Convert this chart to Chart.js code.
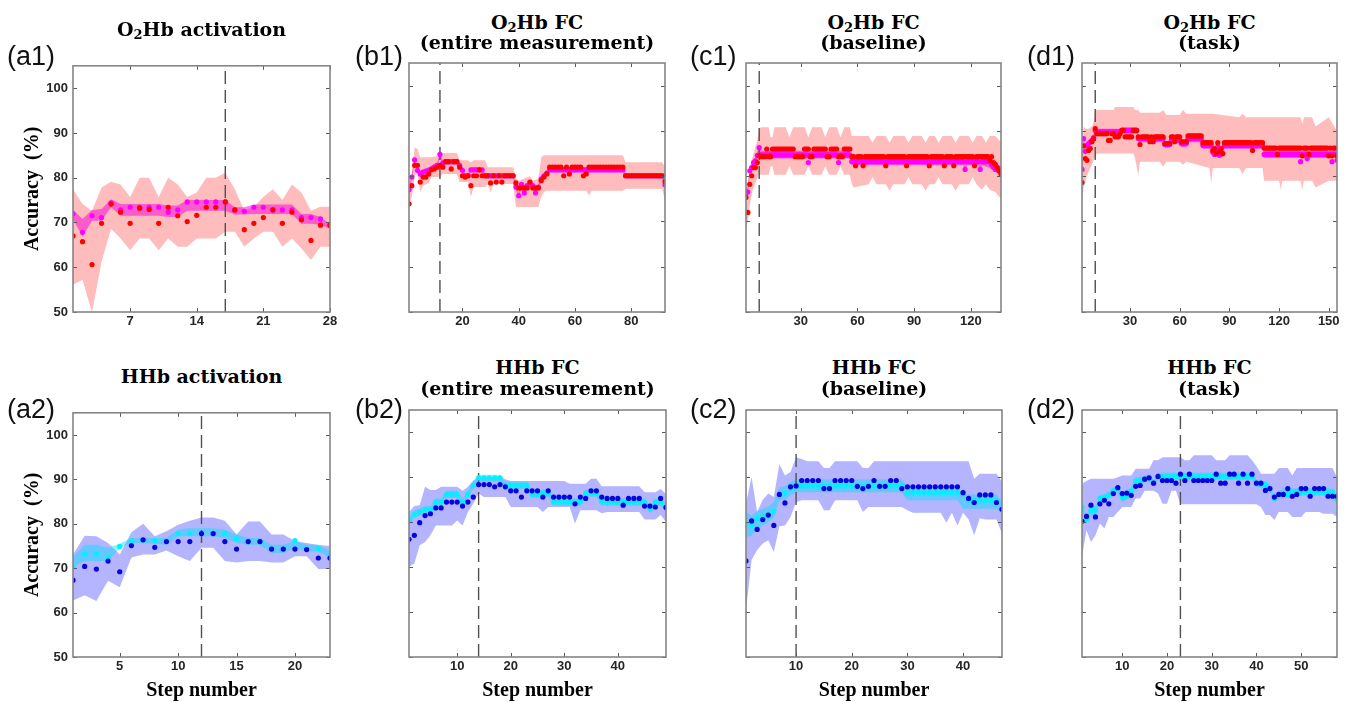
<!DOCTYPE html>
<html><head><meta charset="utf-8">
<script src="https://cdn.jsdelivr.net/npm/chart.js@4.4.1/dist/chart.umd.min.js"></script>
<style>
html,body{margin:0;padding:0;background:#fff;width:1348px;height:703px;overflow:hidden;position:relative;}
canvas{position:absolute;}
.lbl{position:absolute;font-family:'Liberation Sans',Arial,sans-serif;font-size:27px;line-height:27px;color:#111;white-space:nowrap;}
.ttl{position:absolute;font-family:'DejaVu Serif',serif;font-weight:bold;font-size:19px;line-height:19px;color:#000;white-space:nowrap;transform:translateX(-50%);}
.ttl sub{font-size:13px;vertical-align:-3px;line-height:0;}
</style></head><body>
<script>
// ---------- tick labels ----------
const yTicks = [50,60,70,80,90,100];
const a1XTicks = [7,14,21,28];
const b1XTicks = [20,40,60,80];
const c1XTicks = [30,60,90,120];
const d1XTicks = [30,60,90,120,150];
const a2XTicks = [5,10,15,20];
const b2XTicks = [10,20,30,40];
const c2XTicks = [10,20,30,40];
const d2XTicks = [10,20,30,40,50];
// step of the dashed vertical line
const a1Dash = 17, b1Dash = 12, c1Dash = 8, d1Dash = 9, a2Dash = 12, b2Dash = 14, c2Dash = 10, d2Dash = 23;

// ---------- (a1) O2Hb activation ----------
const a1Red = [67.0,65.7,60.6,69.8,74.1,72.3,69.8,73.2,72.9,69.8,73.4,71.5,70.2,71.6,73.4,73.4,74.6,72.8,68.4,69.8,71.1,72.8,69.8,72.3,70.6,66.0,69.4,69.4];
const a1Mag = [72.0,67.8,71.5,71.1,74.4,72.8,73.4,73.4,73.4,73.4,72.3,72.8,74.6,74.6,74.6,74.6,74.6,72.8,72.5,73.4,73.4,72.8,72.8,72.8,71.1,71.1,70.8,69.5];
const a1Hi = [77.4,74.1,72.6,77.8,79.1,78.5,75.7,80.0,80.0,75.7,80.0,78.5,75.7,76.7,80.0,80.0,81.1,77.4,72.6,73.5,75.7,77.4,75.0,78.5,76.7,72.6,73.5,73.5];
const a1Lo = [56.1,57.2,49.9,61.3,68.6,66.4,63.8,66.4,66.4,63.8,66.4,64.6,64.6,66.4,66.4,66.4,67.9,67.9,64.6,66.4,67.9,67.9,64.6,66.4,64.2,61.6,64.6,64.6];
const a1MagHi = [72.8,70.8,72.8,73.0,75.2,74.1,74.1,74.1,74.1,74.1,73.8,73.8,75.0,75.0,75.0,75.0,75.0,73.4,73.4,74.0,74.0,74.0,74.0,74.0,71.9,71.9,71.2,69.6];
const a1MagLo = [70.8,66.8,70.4,70.4,73.4,71.5,71.5,71.5,71.5,71.5,71.2,71.2,72.6,72.6,72.6,72.6,72.6,71.8,71.8,71.9,71.9,71.9,71.9,71.9,69.7,69.7,69.5,68.6];

// ---------- (b1) O2Hb FC entire ----------
const b1Red = [73.9,77.9,82.4,82.4,78.7,79.8,79.8,80.5,81.4,81.6,
 82.0,82.4,82.0,83.2,83.2,81.6,83.2,83.2,82.0,80.1,
 79.8,80.1,77.9,80.1,80.1,81.4,80.1,80.1,80.1,78.5,
 80.1,78.7,80.1,78.7,80.1,80.1,80.1,80.1,78.5,77.4,
 77.4,77.4,77.4,78.7,77.4,77.4,77.4,79.0,79.8,80.5,
 82.0,82.0,82.0,82.0,82.0,80.1,82.0,80.5,82.0,82.0,
 82.0,82.0,80.1,80.5,82.0,82.0,82.0,82.0,82.0,82.0,
 82.0,82.0,82.0,82.0,82.0,82.0,82.0,80.1,80.1,80.1,
 80.1,80.1,80.1,80.1,80.1,80.1,80.1,80.1,80.1,80.1,
 80.1,78.8];
const b1Mag = [77.0,79.8,83.6,81.3,80.5,80.9,81.1,81.3,81.6,82.0,
 82.4,84.8,82.9,83.2,83.2,83.2,83.2,83.2,82.4,81.3,
 80.1,80.1,81.4,81.4,81.4,81.4,81.4,80.1,80.1,80.1,
 80.1,80.1,80.1,80.1,80.1,80.1,80.1,80.1,77.6,75.7,
 78.2,76.3,77.9,78.5,77.9,76.3,77.6,79.4,80.1,80.7,
 81.4,81.4,81.4,81.4,81.4,81.4,81.4,81.4,81.4,81.4,
 81.4,81.4,81.4,81.4,81.4,81.4,81.4,81.4,81.4,81.4,
 81.4,81.4,81.4,81.4,81.4,81.4,81.4,80.1,80.1,80.1,
 80.1,80.1,80.1,80.1,80.1,80.1,80.1,80.1,80.1,80.1,
 80.1,78.1];
const b1BandX = [1,2,3,4,5,6,8,9,12,13,18,19,22,23,24,28,29,30,31,38,39,40,44,45,47,48,49,50,51,64,65,66,77,78,91,92];
const b1Hi = [77.6,80.5,86.4,86.0,84.2,84.2,84.2,84.2,84.5,85.1,85.1,83.5,83.5,83.0,83.5,83.5,82.0,82.0,82.0,82.0,79.5,79.0,80.0,79.0,79.5,84.2,84.6,84.6,84.6,84.6,84.6,84.6,84.6,83.1,83.1,82.0];
const b1Lo = [73.2,75.5,80.0,80.9,76.5,77.9,78.5,79.8,79.8,80.5,80.5,78.7,78.7,75.4,77.6,77.6,78.3,76.5,78.3,78.3,73.2,73.2,73.2,73.2,73.2,75.5,76.5,76.8,76.8,76.8,75.8,76.8,76.8,77.2,77.2,74.6];
const b1NarX = [1,2,3,4,5,8,11,12,13,14,18,19,20,21,22,23,27,28,38,39,40,41,42,43,44,45,46,47,48,49,50,51,77,78,91,92];
const b1NarHi = [77.6,80.4,84.2,82.0,81.2,82.0,83.0,85.2,83.5,83.8,83.8,83.0,81.9,80.7,80.7,82.0,82.0,80.7,80.7,78.2,76.3,78.8,77.0,78.5,79.1,78.5,77.0,78.2,80.0,80.7,81.3,82.0,82.0,80.7,80.7,78.7];
const b1NarLo = [76.4,79.2,83.0,80.6,79.8,80.6,81.8,84.2,82.3,82.6,82.6,81.8,80.7,79.5,79.5,80.8,80.8,79.5,79.5,77.0,75.1,77.6,75.7,77.3,77.9,77.3,75.7,77.0,78.8,79.5,80.1,80.8,80.8,79.5,79.5,77.5];

// ---------- (c1) O2Hb FC baseline ----------
const c1Red = [75.3,72.0,78.2,80.1,81.9,81.9,83.0,84.5,84.3,84.3,
 84.3,86.0,84.3,84.3,86.0,86.0,86.0,86.0,86.0,86.0,
 86.0,86.0,86.0,86.0,86.0,86.0,84.3,84.3,84.3,84.3,
 84.3,86.0,86.0,86.0,84.3,84.3,86.0,86.0,86.0,86.0,
 86.0,86.0,86.0,84.3,84.3,86.0,86.0,86.0,86.0,84.3,
 84.3,84.3,86.0,86.0,86.0,86.0,84.3,84.3,82.3,84.3,
 84.3,84.3,82.3,84.3,84.3,84.3,84.3,84.3,84.3,84.3,
 84.3,84.3,84.3,84.3,82.3,84.3,84.3,84.3,84.3,84.3,
 84.3,84.3,84.3,84.3,84.3,82.3,84.3,84.3,84.3,84.3,
 84.3,84.3,84.3,84.3,84.3,84.3,84.3,82.3,84.3,84.3,
 84.3,84.3,84.3,84.3,84.3,82.3,84.3,84.3,84.3,84.3,
 82.3,84.3,84.3,84.3,84.3,84.3,84.3,84.3,84.3,84.3,
 84.3,82.3,84.3,84.3,84.3,84.3,84.3,84.3,84.3,83.5,
 84.3,83.0,82.6,81.8,81.2,80.5];
const c1Mag = [76.4,76.5,81.2,81.9,83.0,83.4,84.6,86.3,84.7,84.7,
 84.7,84.7,84.7,84.7,84.7,84.7,84.7,84.7,84.7,84.7,
 84.7,84.7,84.7,84.7,84.7,84.7,84.7,84.7,84.7,84.7,
 84.7,84.7,84.7,83.0,84.7,84.7,84.7,84.7,84.7,84.7,
 84.7,84.7,84.7,84.7,84.7,84.7,84.7,84.7,84.7,83.0,
 84.7,84.7,84.7,84.7,84.7,84.7,83.2,83.2,83.2,83.2,
 83.2,83.2,83.2,83.2,83.2,83.2,83.2,83.2,83.2,83.2,
 83.2,83.2,83.2,83.2,83.2,83.2,83.2,83.2,83.2,83.2,
 83.2,83.2,83.2,83.2,83.2,83.2,83.2,83.2,83.2,83.2,
 83.2,83.2,83.2,83.2,83.2,83.2,83.2,83.2,83.2,83.2,
 83.2,83.2,83.2,83.2,83.2,83.2,83.2,83.2,83.2,83.2,
 83.2,83.2,83.2,83.2,83.2,83.2,81.5,83.2,83.2,83.2,
 83.2,83.2,83.2,83.2,81.5,83.2,83.2,83.2,83.2,83.2,
 82.5,82.0,81.5,82.0,81.5,81.0];
const c1BandX = [1,2,3,4,5,6,7,8,9,13,14,15,16,22,24,26,32,34,36,41,43,45,49,51,53,56,57,58,66,68,70,75,77,79,85,87,89,94,96,98,101,103,105,110,112,114,119,121,123,126,128,130,133,136];
const c1Hi = [77.5,79.0,81.5,83.5,85.0,86.5,88.0,90.5,90.8,90.8,88.6,88.6,90.8,90.8,88.6,90.8,90.8,88.6,90.8,90.8,88.6,90.8,90.8,88.6,90.8,90.8,88.9,88.9,88.9,87.4,88.9,88.9,87.4,88.9,88.9,87.4,88.9,88.9,87.4,88.9,88.9,87.4,88.9,88.9,87.4,88.9,88.9,87.4,88.9,88.9,87.4,88.9,88.9,87.5];
const c1Lo = [68.5,70.0,73.5,76.0,77.5,78.5,79.5,80.5,80.3,80.3,82.2,82.2,80.3,80.3,82.2,80.3,80.3,82.2,80.3,80.3,82.2,80.3,80.3,82.2,80.3,80.3,78.2,77.5,78.2,79.8,78.2,78.2,76.8,78.2,78.2,79.8,78.2,78.2,76.8,78.2,78.2,79.8,78.2,78.2,76.8,78.2,78.2,79.8,78.2,77.0,78.2,77.0,76.5,75.0];
const c1NarX = [1,2,3,4,5,6,7,8,9,56,57,116,117,118,124,125,126,130,133,136];
const c1NarHi = [77.2,77.5,82.0,82.8,83.8,84.2,85.4,87.0,85.6,85.6,84.1,84.1,83.0,84.1,84.1,83.0,84.1,83.6,83.0,82.0];
const c1NarLo = [75.5,75.5,80.2,81.0,82.0,82.5,83.6,85.3,83.9,83.9,82.4,82.4,81.0,82.4,82.4,81.0,82.4,81.8,81.0,80.0];

// ---------- (d1) O2Hb FC task ----------
const d1Red = [78.6,86.7,83.9,83.5,85.7,86.1,87.6,88.3,90.5,89.4,
 89.4,89.4,89.4,89.4,89.4,89.4,87.9,87.9,89.4,89.4,
 88.7,88.7,88.7,89.4,90.1,90.1,88.7,88.7,88.7,88.7,
 88.7,90.1,90.1,90.1,88.7,87.0,88.7,88.7,88.7,88.7,
 88.7,87.6,88.7,87.6,88.7,88.7,88.7,88.7,88.7,88.7,
 87.2,87.2,87.2,87.2,88.7,88.7,87.6,88.7,88.7,88.7,
 87.6,87.6,87.6,87.6,88.9,88.9,88.9,88.9,88.9,88.9,
 88.9,88.9,88.9,87.4,87.4,87.4,87.4,87.4,87.4,85.7,
 86.1,85.0,87.4,85.5,86.1,85.0,87.4,87.4,87.4,87.4,
 87.4,87.4,87.4,87.4,87.4,87.4,87.4,87.4,87.4,87.4,
 87.4,87.4,87.4,85.7,87.4,87.4,87.4,87.4,87.4,87.4,
 86.2,86.2,86.2,86.2,86.2,86.2,86.2,86.2,84.8,86.2,
 86.2,86.2,86.2,86.2,86.2,86.2,86.2,86.2,86.2,86.2,
 86.2,86.2,86.2,84.5,86.2,86.2,86.2,84.8,86.2,86.2,
 86.2,86.2,86.2,86.2,86.2,86.2,86.2,86.2,86.2,84.5,
 86.2,84.5,86.2,86.2,84.5];
const d1Mag = [81.5,88.3,85.5,86.8,87.2,87.6,87.9,88.5,90.1,89.8,
 89.8,89.8,89.8,89.8,89.8,89.8,89.8,89.8,89.8,89.8,
 89.8,89.8,89.8,89.8,90.1,90.1,90.1,90.1,90.1,90.1,
 90.1,90.1,90.1,90.1,88.3,88.3,88.3,88.3,88.3,88.3,
 88.3,88.3,88.3,88.3,88.3,88.3,88.3,88.3,88.3,88.3,
 87.0,87.0,87.0,87.0,88.0,88.0,88.0,88.0,88.0,88.0,
 87.2,87.2,87.2,87.2,88.3,88.3,88.3,88.3,88.3,88.3,
 88.3,88.3,88.3,86.8,86.8,86.8,86.8,86.8,86.8,85.3,
 84.8,85.3,86.5,84.6,85.3,85.0,86.8,86.8,86.8,86.8,
 86.8,86.8,86.8,86.8,86.8,86.8,86.8,86.8,86.8,86.8,
 86.8,86.8,86.8,86.8,86.8,86.8,86.8,86.8,86.8,86.8,
 84.8,84.8,84.8,84.8,84.8,84.8,84.8,84.8,84.8,84.8,
 84.8,84.8,84.8,84.8,84.8,84.8,84.8,84.8,84.8,84.8,
 84.8,84.8,83.2,84.8,84.8,84.8,83.9,84.8,84.8,84.8,
 84.8,84.8,84.8,84.8,84.8,84.8,84.8,84.8,84.8,84.8,
 84.8,83.2,84.8,84.8,83.5];
const d1BandX = [1,2,3,5,7,8,9,10,20,21,22,32,33,35,36,48,50,52,60,62,64,78,79,80,96,98,100,110,111,112,120,121,122,133,134,135,140,142,150,155];
const d1Hi = [85.0,91.0,90.5,90.5,91.0,92.0,94.6,94.6,94.6,95.3,95.3,95.3,94.6,94.6,94.0,94.0,94.6,93.5,93.5,94.6,93.8,93.8,93.8,93.8,93.0,93.8,93.0,93.0,93.0,93.0,93.0,93.0,93.0,93.0,91.5,93.0,93.0,91.0,93.0,90.0];
const d1Lo = [74.5,77.5,79.0,81.0,82.5,83.5,84.5,85.0,85.0,85.0,85.0,85.0,84.0,80.2,83.2,83.2,82.1,83.2,83.2,82.5,83.2,81.8,78.5,81.8,81.8,80.5,81.8,81.8,79.0,79.0,79.0,77.0,79.0,79.0,77.0,79.0,79.0,77.5,79.0,79.0];
const d1NarX = [1,2,3,4,8,9,10,24,25,34,35,50,51,54,55,60,61,64,65,73,74,79,80,86,87,110,111,155];
const d1NarHi = [82.5,89.0,86.5,87.5,89.3,90.8,90.5,90.5,90.8,90.8,89.0,89.0,87.8,87.8,88.7,88.7,88.0,88.0,89.0,89.0,87.6,87.6,86.5,86.5,87.6,87.6,85.7,85.7];
const d1NarLo = [80.5,87.5,84.5,86.0,87.7,89.4,89.0,89.0,89.4,89.4,87.5,87.5,86.2,86.2,87.3,87.3,86.4,86.4,87.5,87.5,86.0,86.0,84.3,84.3,86.0,86.0,84.0,84.0];

// ---------- (a2) HHb activation ----------
const a2Blue = [67.3,70.4,69.8,71.6,69.2,75.1,76.4,74.7,76.0,76.0,76.0,77.8,77.8,76.0,74.3,76.0,76.0,74.3,74.3,74.3,74.2,72.3,72.3];
const a2Cyan = [70.2,73.2,73.2,72.4,74.9,76.2,76.4,76.2,76.0,77.8,77.8,77.8,77.8,77.8,76.7,76.0,76.0,74.3,74.3,76.2,74.3,74.4,72.6];
const a2Hi = [73.1,77.3,77.2,75.7,73.1,78.1,80.0,77.2,78.3,79.8,80.7,81.4,81.4,80.7,77.6,80.5,80.5,77.6,77.6,76.1,75.7,75.2,75.0];
const a2Lo = [62.7,63.9,62.6,67.2,65.7,72.4,73.1,73.1,74.0,72.7,71.6,74.6,74.6,71.6,71.3,71.6,71.6,71.3,71.3,72.7,72.7,69.8,69.8];
const a2CyHi = [72.4,75.3,75.3,74.6,75.5,76.8,76.8,76.8,76.8,78.7,79.0,79.0,79.0,78.7,77.6,76.8,76.8,75.3,75.3,76.1,75.3,75.3,73.8];
const a2CyLo = [70.3,71.6,71.6,71.6,74.5,75.7,75.7,75.5,75.3,77.2,77.2,77.2,77.2,76.8,75.7,75.3,75.3,73.4,73.4,74.6,73.8,73.8,72.4];

// ---------- (b2) HHb FC entire ----------
const b2Blue = [76.2,77.1,79.9,81.5,81.9,83.2,83.2,84.5,84.5,84.5,
 83.6,84.5,85.6,88.4,88.4,88.4,87.9,88.4,87.9,87.0,
 87.0,85.6,87.0,87.0,87.0,85.6,87.0,85.6,85.6,85.6,
 85.6,84.1,85.6,85.3,87.0,87.0,85.6,85.3,85.3,85.3,
 83.8,85.3,85.3,85.3,83.6,83.6,83.4,85.3,83.3];
const b2Cyan = [80.3,81.8,82.3,82.8,82.8,84.5,84.5,86.2,86.2,86.2,
 84.5,86.2,88.2,89.9,89.9,89.9,89.9,89.9,88.2,88.2,
 88.2,88.2,88.2,86.2,86.2,86.5,86.5,84.5,84.5,84.5,
 84.5,84.5,84.5,86.5,86.5,86.5,84.5,84.5,84.5,84.5,
 84.5,84.5,84.5,84.5,84.5,82.9,84.5,84.5,83.3];
const b2Hi = [82.3,83.6,83.8,87.9,87.2,87.2,87.9,87.9,87.9,87.9,
 87.0,87.9,89.3,90.1,90.1,90.1,90.1,90.1,89.6,89.2,
 89.2,89.2,89.2,89.2,89.2,89.2,89.2,89.2,89.2,89.2,
 88.6,88.6,88.6,88.6,89.7,89.7,88.0,88.0,88.0,88.0,
 88.0,88.0,88.0,88.0,86.7,86.7,86.7,87.4,86.3];
const b2Lo = [70.1,70.8,74.9,75.6,77.1,79.3,79.3,79.3,79.3,80.4,
 79.3,82.3,84.1,86.4,85.6,85.6,85.6,85.6,85.6,83.4,
 83.4,83.4,83.4,83.4,83.4,82.3,83.4,83.4,83.4,83.4,
 83.4,79.7,82.7,82.7,82.7,82.7,82.0,82.3,82.3,82.3,
 82.3,82.3,82.3,82.3,80.6,80.6,80.6,81.6,80.1];
const b2CyHi = [81.2,82.6,83.1,83.6,83.6,85.3,85.3,87.0,87.0,87.0,
 85.3,87.0,89.0,90.6,90.6,90.6,90.6,90.6,89.0,89.0,
 89.0,89.0,89.0,87.0,87.0,87.3,87.3,85.3,85.3,85.3,
 85.3,85.3,85.3,87.3,87.3,87.3,85.3,85.3,85.3,85.3,
 85.3,85.3,85.3,85.3,85.3,83.7,85.3,85.3,84.1];
const b2CyLo = [79.5,81.0,81.5,82.0,82.0,83.7,83.7,85.4,85.4,85.4,
 83.7,85.4,87.4,89.1,89.1,89.1,89.1,89.1,87.4,87.4,
 87.4,87.4,87.4,85.4,85.4,85.7,85.7,83.7,83.7,83.7,
 83.7,83.7,83.7,85.7,85.7,85.7,83.7,83.7,83.7,83.7,
 83.7,83.7,83.7,83.7,83.7,82.1,83.7,83.7,82.5];

// ---------- (c2) HHb FC baseline ----------
const c2Blue = [71.4,80.3,78.4,80.6,81.6,79.3,86.2,84.3,87.9,88.1,
 89.3,89.3,89.3,89.3,87.5,87.5,89.3,89.3,89.3,89.3,
 88.0,87.5,88.0,89.3,88.0,88.0,89.3,89.3,87.5,87.9,
 87.9,87.9,87.9,87.9,87.9,87.9,87.9,87.9,87.9,86.6,
 85.3,84.4,86.1,86.1,86.1,84.4,82.9];
const c2Cyan = [79.7,79.4,80.8,81.2,81.8,82.5,86.0,86.5,87.6,88.1,
 88.1,88.1,88.1,88.1,88.1,88.1,88.1,88.1,88.1,88.1,
 88.1,88.1,88.1,88.1,88.1,88.1,88.1,88.1,88.1,86.6,
 86.6,86.6,86.6,86.6,86.6,86.6,86.6,86.6,86.6,86.6,
 84.9,84.9,84.9,84.9,84.9,84.9,82.9];
const c2Hi = [84.1,90.1,82.3,85.0,86.4,85.6,93.0,90.4,91.2,94.5,
 94.1,93.6,93.6,93.6,92.1,92.1,93.6,93.6,93.6,93.6,
 93.6,92.1,92.1,93.6,93.6,93.6,93.6,93.6,93.6,93.6,
 93.6,93.6,93.6,93.6,93.6,93.6,93.6,93.6,93.6,93.6,
 93.6,89.7,90.8,90.8,90.8,90.8,89.0];
const c2Lo = [60.4,71.6,73.8,75.3,76.0,73.4,79.1,79.3,81.2,84.5,
 84.9,84.9,84.9,84.9,82.7,82.7,84.9,84.9,84.9,84.9,
 84.9,82.3,83.4,83.4,83.4,83.4,83.4,83.4,83.4,82.7,
 82.1,82.1,82.1,82.1,82.1,82.1,79.9,82.1,79.3,82.1,
 80.6,77.1,80.9,80.6,80.6,80.6,77.5];
const c2CyHi = [82.3,81.5,82.5,83.0,83.5,84.5,87.8,88.0,89.0,89.6,
 89.6,89.6,89.6,89.6,89.6,89.6,89.6,89.6,89.6,89.6,
 89.6,89.6,89.6,89.6,89.6,89.6,89.6,89.6,89.6,87.9,
 87.9,87.9,87.9,87.9,87.9,87.9,87.9,87.9,87.9,86.2,
 86.2,86.2,86.2,86.2,86.2,86.2,84.5];
const c2CyLo = [76.7,77.0,78.5,79.2,80.0,81.0,84.9,85.0,86.0,86.7,
 86.7,86.7,86.7,86.7,86.7,86.7,86.7,86.7,86.7,86.7,
 86.7,86.7,86.7,86.7,86.7,86.7,86.7,86.7,86.7,84.9,
 84.9,84.9,84.9,84.9,84.9,84.9,84.9,84.9,84.9,83.0,
 83.0,83.0,83.0,83.0,83.0,83.0,82.0];

// ---------- (d2) HHb FC task ----------
const d2Blue = [80.2,81.3,83.8,81.2,84.1,84.9,84.1,86.4,87.7,86.4,
 86.5,86.0,88.0,88.2,89.6,89.9,88.7,90.2,89.3,89.3,
 89.3,88.7,90.7,89.3,90.7,89.3,89.3,89.3,89.3,89.3,
 90.7,88.7,88.7,90.7,90.7,88.7,90.7,88.7,90.7,88.7,
 88.7,87.1,87.5,85.6,86.2,86.2,87.5,85.8,86.2,87.5,
 87.5,85.8,87.5,87.5,87.5,85.8,85.8,85.8];
const d2Cyan = [83.4,80.6,82.7,82.7,85.3,85.5,86.0,87.0,87.5,85.5,
 85.8,87.1,89.2,89.3,89.6,89.9,88.7,90.2,90.2,90.2,
 90.2,90.2,90.2,90.2,90.2,90.2,90.2,90.2,90.2,90.2,
 90.2,90.2,90.2,90.2,90.2,90.2,90.2,90.2,90.2,88.7,
 88.4,88.4,87.5,85.3,86.2,86.2,86.2,86.7,86.7,86.7,
 86.7,86.7,86.7,86.7,86.7,86.7,86.7,85.0];
const d2Hi = [88.6,89.2,89.7,89.7,89.7,89.7,89.7,89.7,90.0,90.4,
 90.4,90.4,91.9,91.9,91.9,91.9,93.8,93.8,94.5,94.5,
 94.5,94.5,94.5,93.8,93.8,94.9,94.9,94.9,94.9,94.9,
 93.8,93.8,93.8,94.9,94.9,94.9,94.9,94.9,93.8,92.5,
 90.8,90.8,90.8,90.8,92.1,92.1,92.1,90.4,92.1,92.1,
 92.1,92.1,92.1,92.1,92.1,92.1,92.1,90.0];
const d2Lo = [72.3,78.2,75.6,77.1,79.7,78.6,81.2,81.2,82.3,83.4,
 83.4,83.4,85.3,85.3,87.0,87.0,87.0,86.4,84.1,84.1,
 87.0,87.0,84.0,84.0,84.0,84.0,84.0,84.0,84.0,84.0,
 84.0,84.0,84.0,84.0,84.0,84.0,84.0,84.0,84.0,84.0,
 83.4,81.6,81.6,80.5,82.3,82.3,82.3,81.2,81.2,81.2,
 82.3,82.3,82.3,82.3,81.9,81.9,81.9,81.2];
const d2CyHi = [84.2,81.6,83.6,83.6,86.1,86.3,86.8,87.8,88.3,86.5,
 86.6,87.9,90.0,90.1,90.4,90.7,89.5,91.0,91.0,91.0,
 91.0,91.0,91.0,91.0,91.0,91.0,91.0,91.0,91.0,91.0,
 91.0,91.0,91.0,91.0,91.0,91.0,91.0,91.0,91.0,89.5,
 89.2,89.2,88.3,86.1,87.0,87.5,87.5,87.5,87.5,87.5,
 87.5,87.5,87.5,87.5,87.5,87.5,87.5,85.8];
const d2CyLo = [82.6,79.8,81.5,81.5,84.5,84.7,85.2,86.2,86.7,84.5,
 85.0,86.3,88.4,88.5,88.8,89.1,87.9,89.4,89.4,89.4,
 89.4,89.4,89.4,89.4,89.4,89.4,89.4,89.4,89.4,89.4,
 89.4,89.4,89.4,89.4,89.4,89.4,89.4,89.4,89.4,87.9,
 87.6,87.6,86.7,84.5,85.4,85.4,85.4,85.9,85.9,85.9,
 85.9,85.9,85.9,85.9,85.9,85.9,85.9,84.2];

// ---------- styles ----------
const O2 = {wide:'rgb(255,188,188)', nar:'rgba(250,0,220,0.52)', dot1:'rgb(255,0,0)', dot2:'rgb(255,0,255)'};
const HH = {wide:'rgb(180,180,255)', nar:'rgba(0,225,255,0.45)', dot1:'rgb(5,5,220)', dot2:'rgb(0,240,255)'};

const panels = [
 {row:1,col:0,box:[73,63,330,312],xMin:1,xMax:28,xTicks:a1XTicks,dash:a1Dash,pal:O2,d1:a1Red,d2:a1Mag,wX:null,wHi:a1Hi,wLo:a1Lo,nX:null,nHi:a1MagHi,nLo:a1MagLo,label:'(a1)',lx:7,title:['O<sub>2</sub>Hb activation']},
 {row:1,col:1,box:[409,63,665,312],xMin:1,xMax:92,xTicks:b1XTicks,dash:b1Dash,pal:O2,d1:b1Red,d2:b1Mag,wX:b1BandX,wHi:b1Hi,wLo:b1Lo,nX:b1NarX,nHi:b1NarHi,nLo:b1NarLo,label:'(b1)',lx:355,title:['O<sub>2</sub>Hb FC','(entire measurement)']},
 {row:1,col:2,box:[746,63,1001,312],xMin:1,xMax:136,xTicks:c1XTicks,dash:c1Dash,pal:O2,d1:c1Red,d2:c1Mag,wX:c1BandX,wHi:c1Hi,wLo:c1Lo,nX:c1NarX,nHi:c1NarHi,nLo:c1NarLo,label:'(c1)',lx:690,title:['O<sub>2</sub>Hb FC','(baseline)']},
 {row:1,col:3,box:[1082,63,1337,312],xMin:1,xMax:155,xTicks:d1XTicks,dash:d1Dash,pal:O2,d1:d1Red,d2:d1Mag,wX:d1BandX,wHi:d1Hi,wLo:d1Lo,nX:d1NarX,nHi:d1NarHi,nLo:d1NarLo,label:'(d1)',lx:1027,title:['O<sub>2</sub>Hb FC','(task)']},
 {row:2,col:0,box:[73,410,330,657],xMin:1,xMax:23,xTicks:a2XTicks,dash:a2Dash,pal:HH,d1:a2Blue,d2:a2Cyan,wX:null,wHi:a2Hi,wLo:a2Lo,nX:null,nHi:a2CyHi,nLo:a2CyLo,label:'(a2)',lx:7,title:['HHb activation']},
 {row:2,col:1,box:[409,410,666,657],xMin:1,xMax:49,xTicks:b2XTicks,dash:b2Dash,pal:HH,d1:b2Blue,d2:b2Cyan,wX:null,wHi:b2Hi,wLo:b2Lo,nX:null,nHi:b2CyHi,nLo:b2CyLo,label:'(b2)',lx:355,title:['HHb FC','(entire measurement)']},
 {row:2,col:2,box:[746,410,1002,657],xMin:1,xMax:47,xTicks:c2XTicks,dash:c2Dash,pal:HH,d1:c2Blue,d2:c2Cyan,wX:null,wHi:c2Hi,wLo:c2Lo,nX:null,nHi:c2CyHi,nLo:c2CyLo,label:'(c2)',lx:690,title:['HHb FC','(baseline)']},
 {row:2,col:3,box:[1082,410,1337,657],xMin:1,xMax:58,xTicks:d2XTicks,dash:d2Dash,pal:HH,d1:d2Blue,d2:d2Cyan,wX:null,wHi:d2Hi,wLo:d2Lo,nX:null,nHi:d2CyHi,nLo:d2CyLo,label:'(d2)',lx:1027,title:['HHb FC','(task)']}
];

const toPts = (xs, ys) => ys.map((v, i) => ({x: xs ? xs[i] : i + 1, y: v}));

const framePlugin = {
  id: 'frame',
  afterDatasetsDraw(chart, args, opts) {
    const {ctx, chartArea: a, scales: {x, y}} = chart;
    ctx.save();
    ctx.strokeStyle = '#5a5a5a'; ctx.lineWidth = 1;
    ctx.beginPath();
    opts.xTicks.forEach(v => {
      const px = Math.round(x.getPixelForValue(v)) + 0.5;
      ctx.moveTo(px, a.bottom); ctx.lineTo(px, a.bottom - 4);
      ctx.moveTo(px, a.top); ctx.lineTo(px, a.top + 4);
    });
    yTicks.forEach(v => {
      const py = Math.round(y.getPixelForValue(v)) + 0.5;
      ctx.moveTo(a.left, py); ctx.lineTo(a.left + 4, py);
      ctx.moveTo(a.right, py); ctx.lineTo(a.right - 4, py);
    });
    ctx.stroke();
    ctx.strokeStyle = '#858585'; ctx.lineWidth = 1.6;
    ctx.strokeRect(a.left, a.top, a.right - a.left, a.bottom - a.top);
    ctx.restore();
  }
};

const tickFont = {family: 'Liberation Sans', size: 13, weight: 'bold'};
const axisTitleFont = {family: 'Liberation Serif', size: 20, weight: 'bold'};

panels.forEach(p => {
  const [L, T, R, B] = p.box;
  const bottomH = p.row === 1 ? 24 : 46;
  const cw = R - L + 83, ch = B - T + 10 + bottomH;
  const cv = document.createElement('canvas');
  cv.width = cw; cv.height = ch;
  cv.style.left = (L - 73) + 'px'; cv.style.top = (T - 10) + 'px';
  cv.style.width = cw + 'px'; cv.style.height = ch + 'px';
  document.body.appendChild(cv);

  const band = {borderWidth: 0, borderColor: 'transparent', pointRadius: 0, tension: 0};
  const dots = {showLine: false, pointRadius: 2.6, pointBorderWidth: 0};
  new Chart(cv, {
    type: 'line',
    data: {datasets: [
      Object.assign({data: toPts(p.wX, p.wLo), fill: false, order: 7}, band),
      Object.assign({data: toPts(p.wX, p.wHi), fill: '-1', backgroundColor: p.pal.wide, order: 6}, band),
      Object.assign({data: toPts(p.nX, p.nLo), fill: false, order: 5}, band),
      Object.assign({data: toPts(p.nX, p.nHi), fill: '-1', backgroundColor: p.pal.nar, order: 4}, band),
      {data: [{x: p.dash, y: 50}, {x: p.dash, y: 105}], borderColor: '#505050', borderWidth: 1.4, borderDash: [13, 6], pointRadius: 0, fill: false, order: 3},
      Object.assign({data: toPts(null, p.d2), pointBackgroundColor: p.pal.dot2, pointBorderColor: p.pal.dot2, order: 2}, dots),
      Object.assign({data: toPts(null, p.d1), pointBackgroundColor: p.pal.dot1, pointBorderColor: p.pal.dot1, order: 1}, dots)
    ]},
    options: {
      responsive: false, animation: false, devicePixelRatio: 1,
      layout: {padding: {left: 0, top: 10, right: 10, bottom: 0}},
      plugins: {legend: {display: false}, tooltip: {enabled: false}, frame: {xTicks: p.xTicks}},
      scales: {
        x: {type: 'linear', min: p.xMin, max: p.xMax,
            afterBuildTicks: s => { s.ticks = p.xTicks.map(v => ({value: v})); },
            afterFit: s => { s.height = bottomH; },
            grid: {display: false, drawTicks: false}, border: {display: false},
            ticks: {padding: 2, autoSkip: false, maxRotation: 0, minRotation: 0, color: '#262626', font: tickFont},
            title: {display: p.row === 2, text: 'Step number', color: '#000', font: axisTitleFont, padding: {top: 0, bottom: 0}}},
        y: {type: 'linear', min: 50, max: 105,
            afterBuildTicks: s => { s.ticks = yTicks.map(v => ({value: v})); },
            afterFit: s => { s.width = 73; },
            grid: {display: false, drawTicks: false}, border: {display: false},
            ticks: {display: p.col === 0, padding: 5, color: '#262626', font: tickFont},
            title: {display: p.col === 0, text: 'Accuracy  (%)', color: '#000', font: axisTitleFont, padding: {top: 21, bottom: 0}}}
      }
    },
    plugins: [framePlugin]
  });

  // panel label
  const lb = document.createElement('div');
  lb.className = 'lbl';
  lb.textContent = p.label;
  const lblBase = p.row === 1 ? 66 : 419;
  lb.style.left = p.lx + 'px';
  lb.style.top = (lblBase - 22.8) + 'px';
  document.body.appendChild(lb);

  // titles
  const cx = (L + R) / 2;
  let bases;
  if (p.title.length === 1) bases = [p.row === 1 ? 36 : 383];
  else bases = p.row === 1 ? [29.3, 48.5] : [374, 394.5];
  p.title.forEach((t, i) => {
    const d = document.createElement('div');
    d.className = 'ttl';
    d.innerHTML = t;
    d.style.left = cx + 'px';
    d.style.top = (bases[i] - 16) + 'px';
    document.body.appendChild(d);
  });
});
</script>
</body></html>
